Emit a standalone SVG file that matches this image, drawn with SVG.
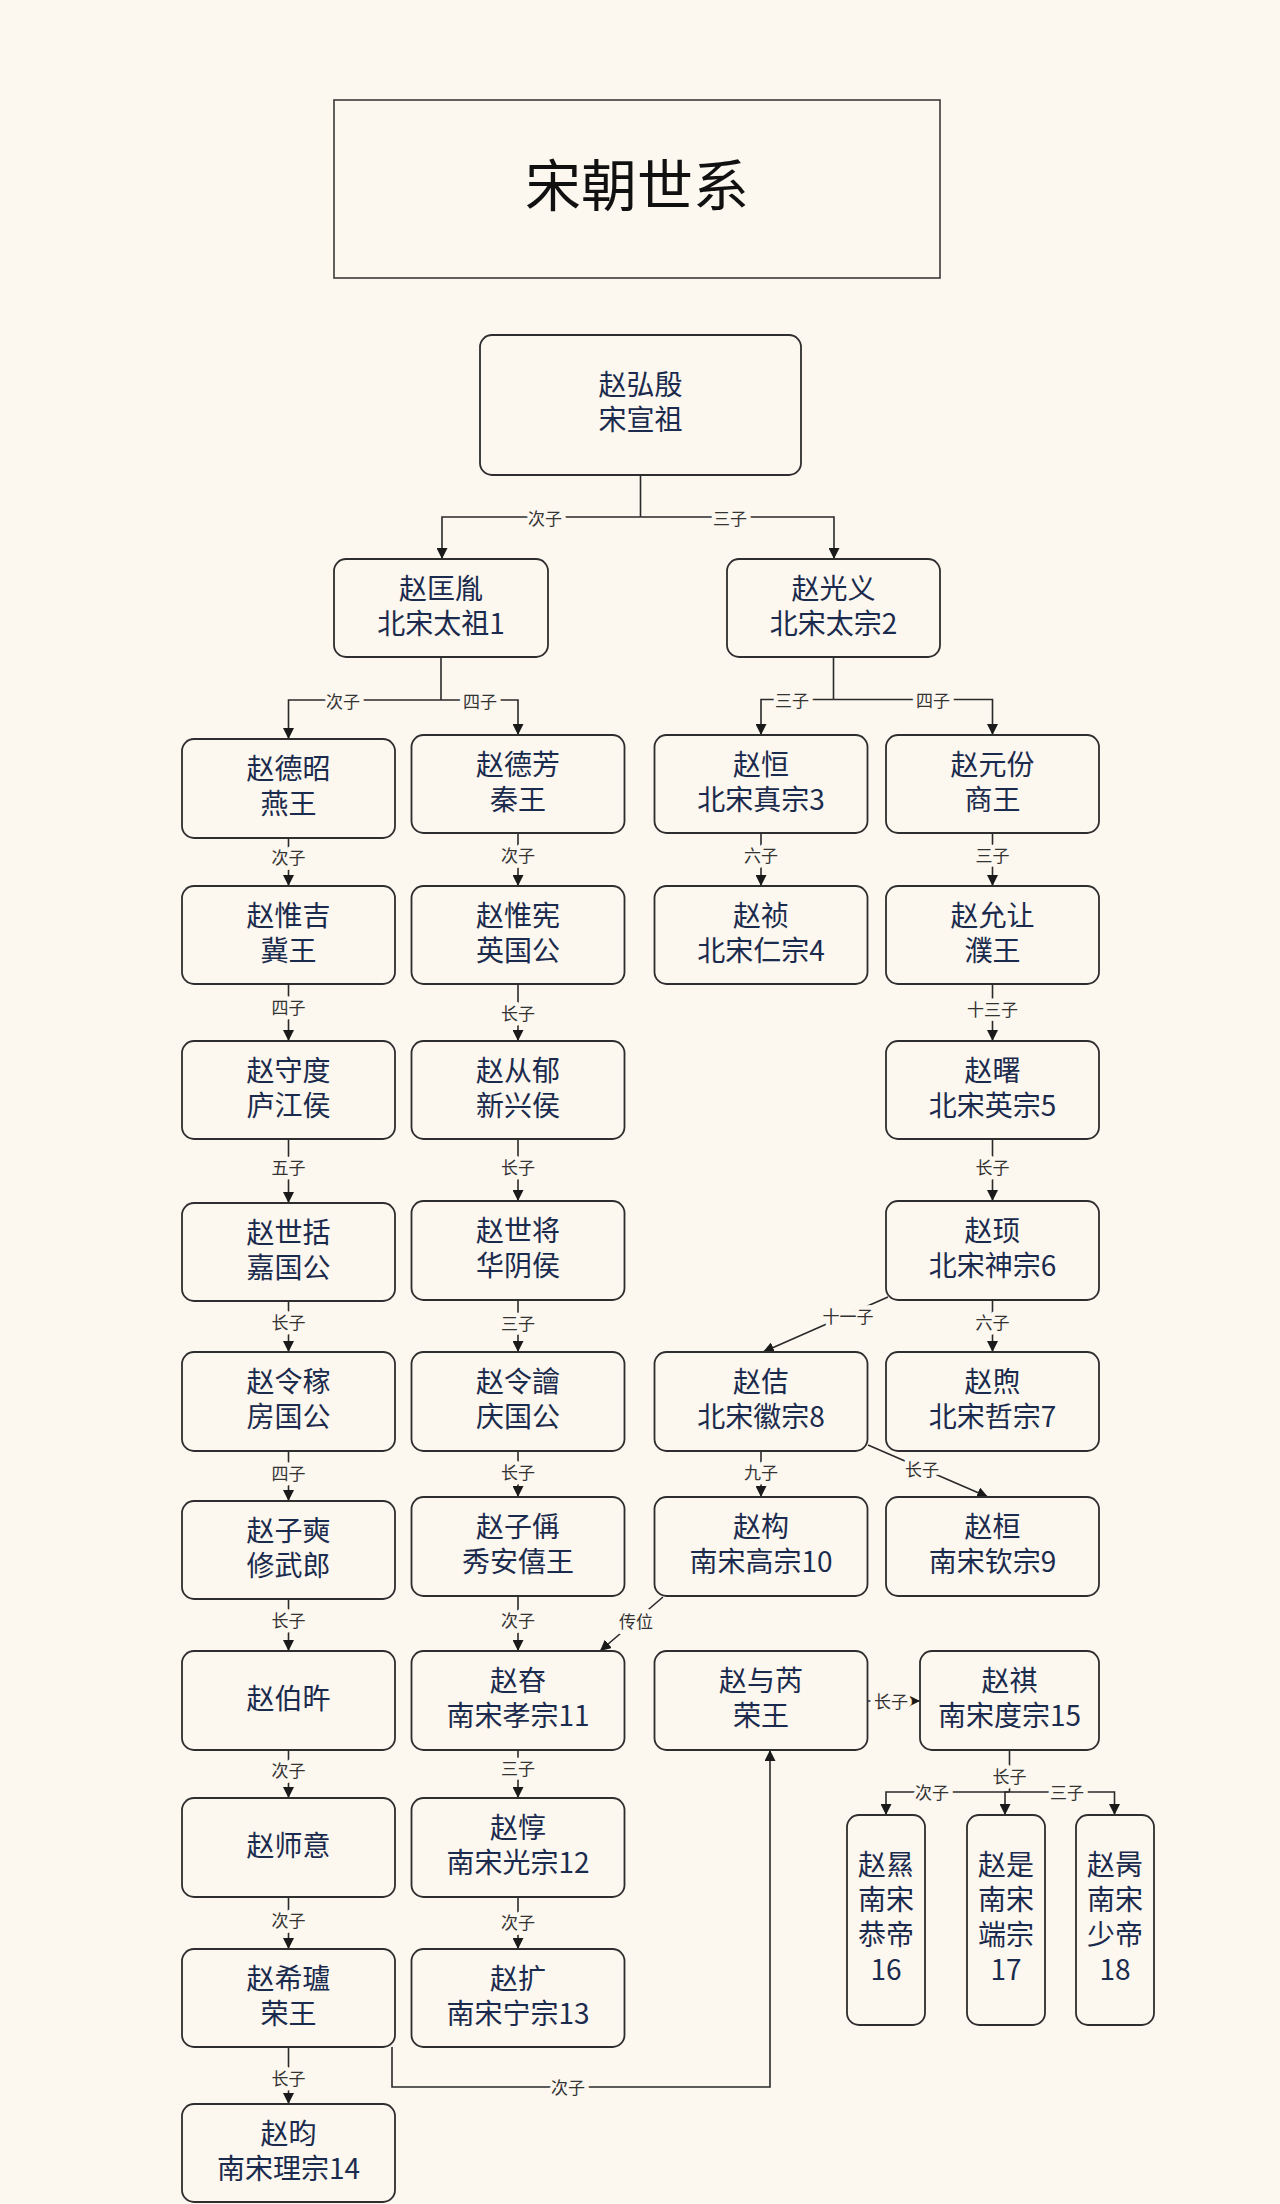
<svg xmlns="http://www.w3.org/2000/svg" width="1280" height="2204" viewBox="0 0 1280 2204">
<style>
.bg{fill:#fcf7ef}
.title{fill:none;stroke:#3a3a3a;stroke-width:1.6}
.title-t{font-family:"Noto Sans CJK SC","Noto Sans",sans-serif;font-size:56px;fill:#111;text-anchor:middle;dominant-baseline:central}
.box{fill:#fcf7ef;stroke:#2e2e2e;stroke-width:1.8}
.t{font-family:"Noto Sans CJK SC","Noto Sans",sans-serif;font-size:28px;fill:#1b2b4d;text-anchor:middle;dominant-baseline:central}
.ln{fill:none;stroke:#2a2a2a;stroke-width:1.6}
.ar{marker-end:url(#ah)}
.lb{font-family:"Noto Sans CJK SC","Noto Sans",sans-serif;font-size:17px;fill:#333;text-anchor:middle;dominant-baseline:central;stroke:#fcf7ef;stroke-width:9px;paint-order:stroke;stroke-linejoin:round}
</style>
<defs>
<marker id="ah" viewBox="0 0 10 10" refX="10" refY="5" markerWidth="11" markerHeight="11" markerUnits="userSpaceOnUse" orient="auto">
<path d="M0,0 L10,5 L0,10 z" fill="#1a1a1a"/>
</marker>
</defs>
<rect class="bg" x="0" y="0" width="1280" height="2204"/>

<g id="title">
<rect class="title" x="334" y="100" width="606" height="178"/>
<text class="title-t" x="637" y="181">宋朝世系</text>
</g>

<g id="connectors">
<path class="ln" d="M640.5,475 V517"/>
<path class="ln ar" d="M640.5,517 H442 V559"/>
<path class="ln ar" d="M640.5,517 H834 V559"/>
<text class="lb" x="545" y="517">次子</text>
<text class="lb" x="730" y="517">三子</text>
<path class="ln" d="M441,657 V700"/>
<path class="ln ar" d="M441,700 H288.5 V739"/>
<path class="ln ar" d="M441,700 H518 V735"/>
<text class="lb" x="343" y="700">次子</text>
<text class="lb" x="480" y="700">四子</text>
<path class="ln" d="M833.5,657 V699.5"/>
<path class="ln ar" d="M833.5,699.5 H761 V735"/>
<path class="ln ar" d="M833.5,699.5 H992.5 V735"/>
<text class="lb" x="792" y="699.5">三子</text>
<text class="lb" x="933" y="699.5">四子</text>
<path class="ln ar" d="M288.5,838 V886"/><text class="lb" x="288.5" y="856">次子</text>
<path class="ln ar" d="M288.5,984 V1041"/><text class="lb" x="288.5" y="1006">四子</text>
<path class="ln ar" d="M288.5,1139 V1203"/><text class="lb" x="288.5" y="1166">五子</text>
<path class="ln ar" d="M288.5,1301 V1352"/><text class="lb" x="288.5" y="1321">长子</text>
<path class="ln ar" d="M288.5,1451 V1501"/><text class="lb" x="288.5" y="1472">四子</text>
<path class="ln ar" d="M288.5,1599 V1651"/><text class="lb" x="288.5" y="1619">长子</text>
<path class="ln ar" d="M288.5,1750 V1798"/><text class="lb" x="288.5" y="1769">次子</text>
<path class="ln ar" d="M288.5,1897 V1949"/><text class="lb" x="288.5" y="1919">次子</text>
<path class="ln ar" d="M288.5,2047 V2104"/><text class="lb" x="288.5" y="2077">长子</text>
<path class="ln ar" d="M518,833 V886"/><text class="lb" x="518" y="854">次子</text>
<path class="ln ar" d="M518,984 V1041"/><text class="lb" x="518" y="1012">长子</text>
<path class="ln ar" d="M518,1139 V1201"/><text class="lb" x="518" y="1166">长子</text>
<path class="ln ar" d="M518,1300 V1352"/><text class="lb" x="518" y="1322">三子</text>
<path class="ln ar" d="M518,1451 V1497"/><text class="lb" x="518" y="1471">长子</text>
<path class="ln ar" d="M518,1596 V1651"/><text class="lb" x="518" y="1619">次子</text>
<path class="ln ar" d="M518,1750 V1798"/><text class="lb" x="518" y="1767">三子</text>
<path class="ln ar" d="M518,1897 V1949"/><text class="lb" x="518" y="1921">次子</text>
<path class="ln ar" d="M761,833 V886"/><text class="lb" x="761" y="854">六子</text>
<path class="ln ar" d="M761,1451 V1497"/><text class="lb" x="761" y="1471">九子</text>
<path class="ln ar" d="M992.5,833 V886"/><text class="lb" x="992.5" y="854">三子</text>
<path class="ln ar" d="M992.5,984 V1041"/><text class="lb" x="992.5" y="1008">十三子</text>
<path class="ln ar" d="M992.5,1139 V1201"/><text class="lb" x="992.5" y="1166">长子</text>
<path class="ln ar" d="M992.5,1300 V1352"/><text class="lb" x="992.5" y="1321">六子</text>
<path class="ln ar" d="M888,1297 L763,1352"/><text class="lb" x="848" y="1315">十一子</text>
<path class="ln ar" d="M868,1445 L988,1497"/><text class="lb" x="922" y="1468">长子</text>
<path class="ln ar" d="M663,1597 L600,1651"/><text class="lb" x="636" y="1620">传位</text>
<path class="ln ar" d="M868,1701 H920"/><text class="lb" x="891" y="1700">长子</text>
<path class="ln" d="M1009.5,1750 V1792"/>
<path class="ln ar" d="M1009.5,1792 H886 V1815"/>
<path class="ln ar" d="M1009.5,1792 H1005 V1815"/>
<path class="ln ar" d="M1009.5,1792 H1114.5 V1815"/>
<text class="lb" x="1009.5" y="1775">长子</text>
<text class="lb" x="932" y="1791">次子</text>
<text class="lb" x="1067" y="1791">三子</text>
<path class="ln ar" d="M392,2047 V2087 H770 V1750"/>
<text class="lb" x="568" y="2086">次子</text>
</g>

<g id="n-root"><rect class="box" x="480" y="335" width="321" height="140" rx="12"/><text class="t"><tspan x="640.5" y="383">赵弘殷</tspan><tspan x="640.5" y="418">宋宣祖</tspan></text></g>
<g id="n1"><rect class="box" x="334" y="559" width="214" height="98" rx="12"/><text class="t"><tspan x="441" y="586.5">赵匡胤</tspan><tspan x="441" y="621.5">北宋太祖1</tspan></text></g>
<g id="n2"><rect class="box" x="727" y="559" width="213" height="98" rx="12"/><text class="t"><tspan x="833.5" y="586.5">赵光义</tspan><tspan x="833.5" y="621.5">北宋太宗2</tspan></text></g>

<g id="n-dezhao"><rect class="box" x="182" y="739" width="213" height="99" rx="12"/><text class="t"><tspan x="288.5" y="767">赵德昭</tspan><tspan x="288.5" y="802">燕王</tspan></text></g>
<g id="n-defang"><rect class="box" x="411.5" y="735" width="213" height="98" rx="12"/><text class="t"><tspan x="518" y="762.5">赵德芳</tspan><tspan x="518" y="797.5">秦王</tspan></text></g>
<g id="n3"><rect class="box" x="654.5" y="735" width="213" height="98" rx="12"/><text class="t"><tspan x="761" y="762.5">赵恒</tspan><tspan x="761" y="797.5">北宋真宗3</tspan></text></g>
<g id="n-yuanfen"><rect class="box" x="886" y="735" width="213" height="98" rx="12"/><text class="t"><tspan x="992.5" y="762.5">赵元份</tspan><tspan x="992.5" y="797.5">商王</tspan></text></g>

<g id="n-weiji"><rect class="box" x="182" y="886" width="213" height="98" rx="12"/><text class="t"><tspan x="288.5" y="913.5">赵惟吉</tspan><tspan x="288.5" y="948.5">冀王</tspan></text></g>
<g id="n-weixian"><rect class="box" x="411.5" y="886" width="213" height="98" rx="12"/><text class="t"><tspan x="518" y="913.5">赵惟宪</tspan><tspan x="518" y="948.5">英国公</tspan></text></g>
<g id="n4"><rect class="box" x="654.5" y="886" width="213" height="98" rx="12"/><text class="t"><tspan x="761" y="913.5">赵祯</tspan><tspan x="761" y="948.5">北宋仁宗4</tspan></text></g>
<g id="n-yunrang"><rect class="box" x="886" y="886" width="213" height="98" rx="12"/><text class="t"><tspan x="992.5" y="913.5">赵允让</tspan><tspan x="992.5" y="948.5">濮王</tspan></text></g>

<g id="n-shoudu"><rect class="box" x="182" y="1041" width="213" height="98" rx="12"/><text class="t"><tspan x="288.5" y="1068.5">赵守度</tspan><tspan x="288.5" y="1103.5">庐江侯</tspan></text></g>
<g id="n-congyu"><rect class="box" x="411.5" y="1041" width="213" height="98" rx="12"/><text class="t"><tspan x="518" y="1068.5">赵从郁</tspan><tspan x="518" y="1103.5">新兴侯</tspan></text></g>
<g id="n5"><rect class="box" x="886" y="1041" width="213" height="98" rx="12"/><text class="t"><tspan x="992.5" y="1068.5">赵曙</tspan><tspan x="992.5" y="1103.5">北宋英宗5</tspan></text></g>

<g id="n-shikuo"><rect class="box" x="182" y="1203" width="213" height="98" rx="12"/><text class="t"><tspan x="288.5" y="1230.5">赵世括</tspan><tspan x="288.5" y="1265.5">嘉国公</tspan></text></g>
<g id="n-shijiang"><rect class="box" x="411.5" y="1201" width="213" height="99" rx="12"/><text class="t"><tspan x="518" y="1229">赵世将</tspan><tspan x="518" y="1264">华阴侯</tspan></text></g>
<g id="n6"><rect class="box" x="886" y="1201" width="213" height="99" rx="12"/><text class="t"><tspan x="992.5" y="1229">赵顼</tspan><tspan x="992.5" y="1264">北宋神宗6</tspan></text></g>

<g id="n-lingjia"><rect class="box" x="182" y="1352" width="213" height="99" rx="12"/><text class="t"><tspan x="288.5" y="1380">赵令稼</tspan><tspan x="288.5" y="1415">房国公</tspan></text></g>
<g id="n-lingkuai"><rect class="box" x="411.5" y="1352" width="213" height="99" rx="12"/><text class="t"><tspan x="518" y="1380">赵令譮</tspan><tspan x="518" y="1415">庆国公</tspan></text></g>
<g id="n8"><rect class="box" x="654.5" y="1352" width="213" height="99" rx="12"/><text class="t"><tspan x="761" y="1380">赵佶</tspan><tspan x="761" y="1415">北宋徽宗8</tspan></text></g>
<g id="n7"><rect class="box" x="886" y="1352" width="213" height="99" rx="12"/><text class="t"><tspan x="992.5" y="1380">赵煦</tspan><tspan x="992.5" y="1415">北宋哲宗7</tspan></text></g>

<g id="n-zishi"><rect class="box" x="182" y="1501" width="213" height="98" rx="12"/><text class="t"><tspan x="288.5" y="1528.5">赵子奭</tspan><tspan x="288.5" y="1563.5">修武郎</tspan></text></g>
<g id="n-zicheng"><rect class="box" x="411.5" y="1497" width="213" height="99" rx="12"/><text class="t"><tspan x="518" y="1525">赵子偁</tspan><tspan x="518" y="1560">秀安僖王</tspan></text></g>
<g id="n10"><rect class="box" x="654.5" y="1497" width="213" height="99" rx="12"/><text class="t"><tspan x="761" y="1525">赵构</tspan><tspan x="761" y="1560">南宋高宗10</tspan></text></g>
<g id="n9"><rect class="box" x="886" y="1497" width="213" height="99" rx="12"/><text class="t"><tspan x="992.5" y="1525">赵桓</tspan><tspan x="992.5" y="1560">南宋钦宗9</tspan></text></g>

<g id="n-bowu"><rect class="box" x="182" y="1651" width="213" height="99" rx="12"/><text class="t" x="288.5" y="1697">赵伯旿</text></g>
<g id="n11"><rect class="box" x="411.5" y="1651" width="213" height="99" rx="12"/><text class="t"><tspan x="518" y="1679">赵昚</tspan><tspan x="518" y="1714">南宋孝宗11</tspan></text></g>
<g id="n-yurui"><rect class="box" x="654.5" y="1651" width="213" height="99" rx="12"/><text class="t"><tspan x="761" y="1679">赵与芮</tspan><tspan x="761" y="1714">荣王</tspan></text></g>
<g id="n15"><rect class="box" x="920" y="1651" width="179" height="99" rx="12"/><text class="t"><tspan x="1009.5" y="1679">赵祺</tspan><tspan x="1009.5" y="1714">南宋度宗15</tspan></text></g>

<g id="n-shiyi"><rect class="box" x="182" y="1798" width="213" height="99" rx="12"/><text class="t" x="288.5" y="1844">赵师意</text></g>
<g id="n12"><rect class="box" x="411.5" y="1798" width="213" height="99" rx="12"/><text class="t"><tspan x="518" y="1826">赵惇</tspan><tspan x="518" y="1861">南宋光宗12</tspan></text></g>

<g id="n-xilu"><rect class="box" x="182" y="1949" width="213" height="98" rx="12"/><text class="t"><tspan x="288.5" y="1976.5">赵希瓐</tspan><tspan x="288.5" y="2011.5">荣王</tspan></text></g>
<g id="n13"><rect class="box" x="411.5" y="1949" width="213" height="98" rx="12"/><text class="t"><tspan x="518" y="1976.5">赵扩</tspan><tspan x="518" y="2011.5">南宋宁宗13</tspan></text></g>

<g id="n14"><rect class="box" x="182" y="2104" width="213" height="98" rx="12"/><text class="t"><tspan x="288.5" y="2131.5">赵昀</tspan><tspan x="288.5" y="2166.5">南宋理宗14</tspan></text></g>

<g id="n16"><rect class="box" x="847" y="1815" width="78" height="210" rx="12"/><text class="t"><tspan x="886" y="1863">赵㬎</tspan><tspan x="886" y="1898">南宋</tspan><tspan x="886" y="1933">恭帝</tspan><tspan x="886" y="1968">16</tspan></text></g>
<g id="n17"><rect class="box" x="967" y="1815" width="78" height="210" rx="12"/><text class="t"><tspan x="1006" y="1863">赵是</tspan><tspan x="1006" y="1898">南宋</tspan><tspan x="1006" y="1933">端宗</tspan><tspan x="1006" y="1968">17</tspan></text></g>
<g id="n18"><rect class="box" x="1076" y="1815" width="78" height="210" rx="12"/><text class="t"><tspan x="1115" y="1863">赵昺</tspan><tspan x="1115" y="1898">南宋</tspan><tspan x="1115" y="1933">少帝</tspan><tspan x="1115" y="1968">18</tspan></text></g>
</svg>
